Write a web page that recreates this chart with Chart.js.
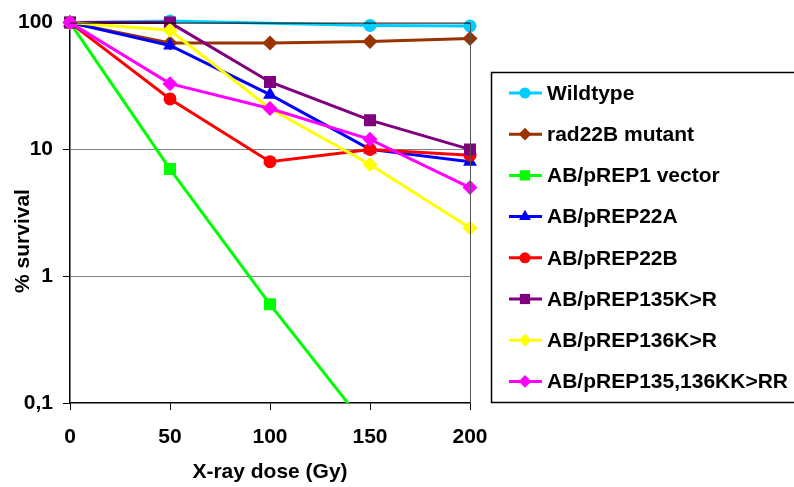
<!DOCTYPE html>
<html>
<head>
<meta charset="utf-8">
<script src="https://cdn.jsdelivr.net/npm/chart.js@4/dist/chart.umd.min.js"></script>
<style>
  html, body { margin: 0; padding: 0; background: #fff; }
  #wrap { width: 794px; height: 487px; }
</style>
</head>
<body>
<div id="wrap"><canvas id="survivalChart" width="794" height="487"></canvas></div>
<script>
// X-ray doses (Gy)
const doses = [0, 50, 100, 150, 200];

// % survival per strain
const wildtype     = [100, 103, null, 95, 94];
const rad22B       = [100, 69, 69, 71, 75];
const pREP1Vector  = [100, 7, 0.6, 0.06, null];
const pREP22A      = [100, 66, 27, 10, 8];
const pREP22B      = [100, 25, 8, 10, 9];
const pREP135KR    = [100, 100, 34, 17, 10];
const pREP136KR    = [100, 87, 21, 7.6, 2.4];
const pREP135136KK = [100, 33, 21, 12, 5];

const seriesNames = ['Wildtype', 'rad22B mutant', 'AB/pREP1 vector', 'AB/pREP22A',
  'AB/pREP22B', 'AB/pREP135K>R', 'AB/pREP136K>R', 'AB/pREP135,136KK>RR'];
const seriesValues = [wildtype, rad22B, pREP1Vector, pREP22A, pREP22B, pREP135KR, pREP136KR, pREP135136KK];
const seriesColors = ['#00CCFF', '#993300', '#00FF00', '#0000FF', '#FF0000', '#800080', '#FFFF00', '#FF00FF'];
const seriesMarkers = ['circle', 'rectRot', 'rect', 'triangle', 'circle', 'rect', 'rectRot', 'rectRot'];

const yTickValues = [0.1, 1, 10, 100];
const yTickLabels = ['0,1', '1', '10', '100'];
const xTickValues = [0, 50, 100, 150, 200];

const FONT = "'Liberation Sans', Arial, sans-serif";

function markerRadius(style) {
    if (style === 'rect') return 8.5;
    if (style === 'triangle') return 8;
    if (style === 'rectRot') return 7.5;
    return 6.5;
}

const datasets = seriesNames.map((name, i) => ({
    label: name,
    data: doses.map((d, j) => ({ x: d, y: seriesValues[i][j] })),
    borderColor: seriesColors[i],
    backgroundColor: seriesColors[i],
    borderWidth: 3,
    pointStyle: seriesMarkers[i],
    pointRadius: markerRadius(seriesMarkers[i]),
    pointBorderWidth: 0,
    spanGaps: true,
    order: seriesNames.length - i,
    clip: { left: 12, top: 12, right: 12, bottom: 0 }
}));

// frame, y title and boxed legend
const decorations = {
    id: 'decorations',
    afterDraw(chart) {
        const ctx = chart.ctx;
        const a = chart.chartArea;
        ctx.save();

        // top + right edge of the plot frame
        ctx.strokeStyle = '#000';
        ctx.lineWidth = 1;
        ctx.beginPath();
        ctx.moveTo(a.left, a.top + 0.5);
        ctx.lineTo(a.right, a.top + 0.5);
        ctx.stroke();
        ctx.strokeStyle = '#555';
        ctx.beginPath();
        ctx.moveTo(a.right + 0.5, a.top);
        ctx.lineTo(a.right + 0.5, a.bottom);
        ctx.stroke();

        // y axis title
        ctx.fillStyle = '#000';
        ctx.font = 'bold 21px ' + FONT;
        ctx.textAlign = 'center';
        ctx.textBaseline = 'middle';
        ctx.translate(23, 241);
        ctx.rotate(-Math.PI / 2);
        ctx.fillText('% survival', 0, 0);
        ctx.restore();

        // legend
        ctx.save();
        ctx.strokeStyle = '#000';
        ctx.lineWidth = 1.5;
        ctx.strokeRect(491.5, 72.5, 320, 330);
        const top = 93, step = 41.2;
        chart.data.datasets.forEach((ds, i) => {
            const y = top + i * step;
            ctx.strokeStyle = ds.borderColor;
            ctx.lineWidth = 3;
            ctx.beginPath();
            ctx.moveTo(509, y);
            ctx.lineTo(542, y);
            ctx.stroke();
            ctx.fillStyle = ds.backgroundColor;
            const r = ds.pointRadius * 0.85;
            ctx.beginPath();
            if (ds.pointStyle === 'circle') {
                ctx.arc(525, y, r, 0, Math.PI * 2);
            } else if (ds.pointStyle === 'rect') {
                const s = r * Math.SQRT1_2;
                ctx.rect(525 - s, y - s, 2 * s, 2 * s);
            } else if (ds.pointStyle === 'rectRot') {
                ctx.moveTo(525 - r, y);
                ctx.lineTo(525, y - r);
                ctx.lineTo(525 + r, y);
                ctx.lineTo(525, y + r);
                ctx.closePath();
            } else if (ds.pointStyle === 'triangle') {
                ctx.moveTo(525, y - r);
                ctx.lineTo(525 + r * 0.87, y + r * 0.5);
                ctx.lineTo(525 - r * 0.87, y + r * 0.5);
                ctx.closePath();
            }
            ctx.fill();
            ctx.fillStyle = '#000';
            ctx.font = 'bold 21px ' + FONT;
            ctx.textAlign = 'left';
            ctx.textBaseline = 'middle';
            ctx.fillText(ds.label, 547, y + 1);
        });
        ctx.restore();
    }
};

new Chart(document.getElementById('survivalChart'), {
    type: 'line',
    data: { datasets: datasets },
    options: {
        responsive: false,
        animation: false,
        devicePixelRatio: 1,
        layout: { padding: { top: 22, right: 324, left: 0, bottom: 0 } },
        plugins: {
            legend: { display: false },
            tooltip: { enabled: false }
        },
        scales: {
            x: {
                type: 'linear',
                min: 0,
                max: 200,
                afterBuildTicks: scale => { scale.ticks = xTickValues.map(v => ({ value: v })); },
                afterFit: scale => { scale.height = 84; },
                grid: { drawOnChartArea: false, drawTicks: true, tickLength: 7, color: '#000' },
                border: { color: '#000', width: 1.5 },
                ticks: { color: '#000', padding: 15, font: { family: FONT, size: 21, weight: 'bold' } },
                title: {
                    display: true,
                    text: 'X-ray dose (Gy)',
                    color: '#000',
                    padding: { top: 0, bottom: 2 },
                    font: { family: FONT, size: 21, weight: 'bold' }
                }
            },
            y: {
                type: 'logarithmic',
                min: 0.1,
                max: 100,
                afterBuildTicks: scale => { scale.ticks = yTickValues.map(v => ({ value: v })); },
                afterFit: scale => { scale.width = 70; },
                grid: {
                    drawTicks: true,
                    tickLength: 7,
                    color: ctx => (ctx.tick && (ctx.tick.value === 1 || ctx.tick.value === 10)) ? '#808080' : 'rgba(0,0,0,0)',
                    tickColor: '#000'
                },
                border: { color: '#000', width: 1.5 },
                ticks: {
                    color: '#000',
                    padding: 10,
                    font: { family: FONT, size: 21, weight: 'bold' },
                    callback: value => {
                        const k = yTickValues.indexOf(value);
                        return k >= 0 ? yTickLabels[k] : '';
                    }
                }
            }
        }
    },
    plugins: [decorations]
});
</script>
</body>
</html>
